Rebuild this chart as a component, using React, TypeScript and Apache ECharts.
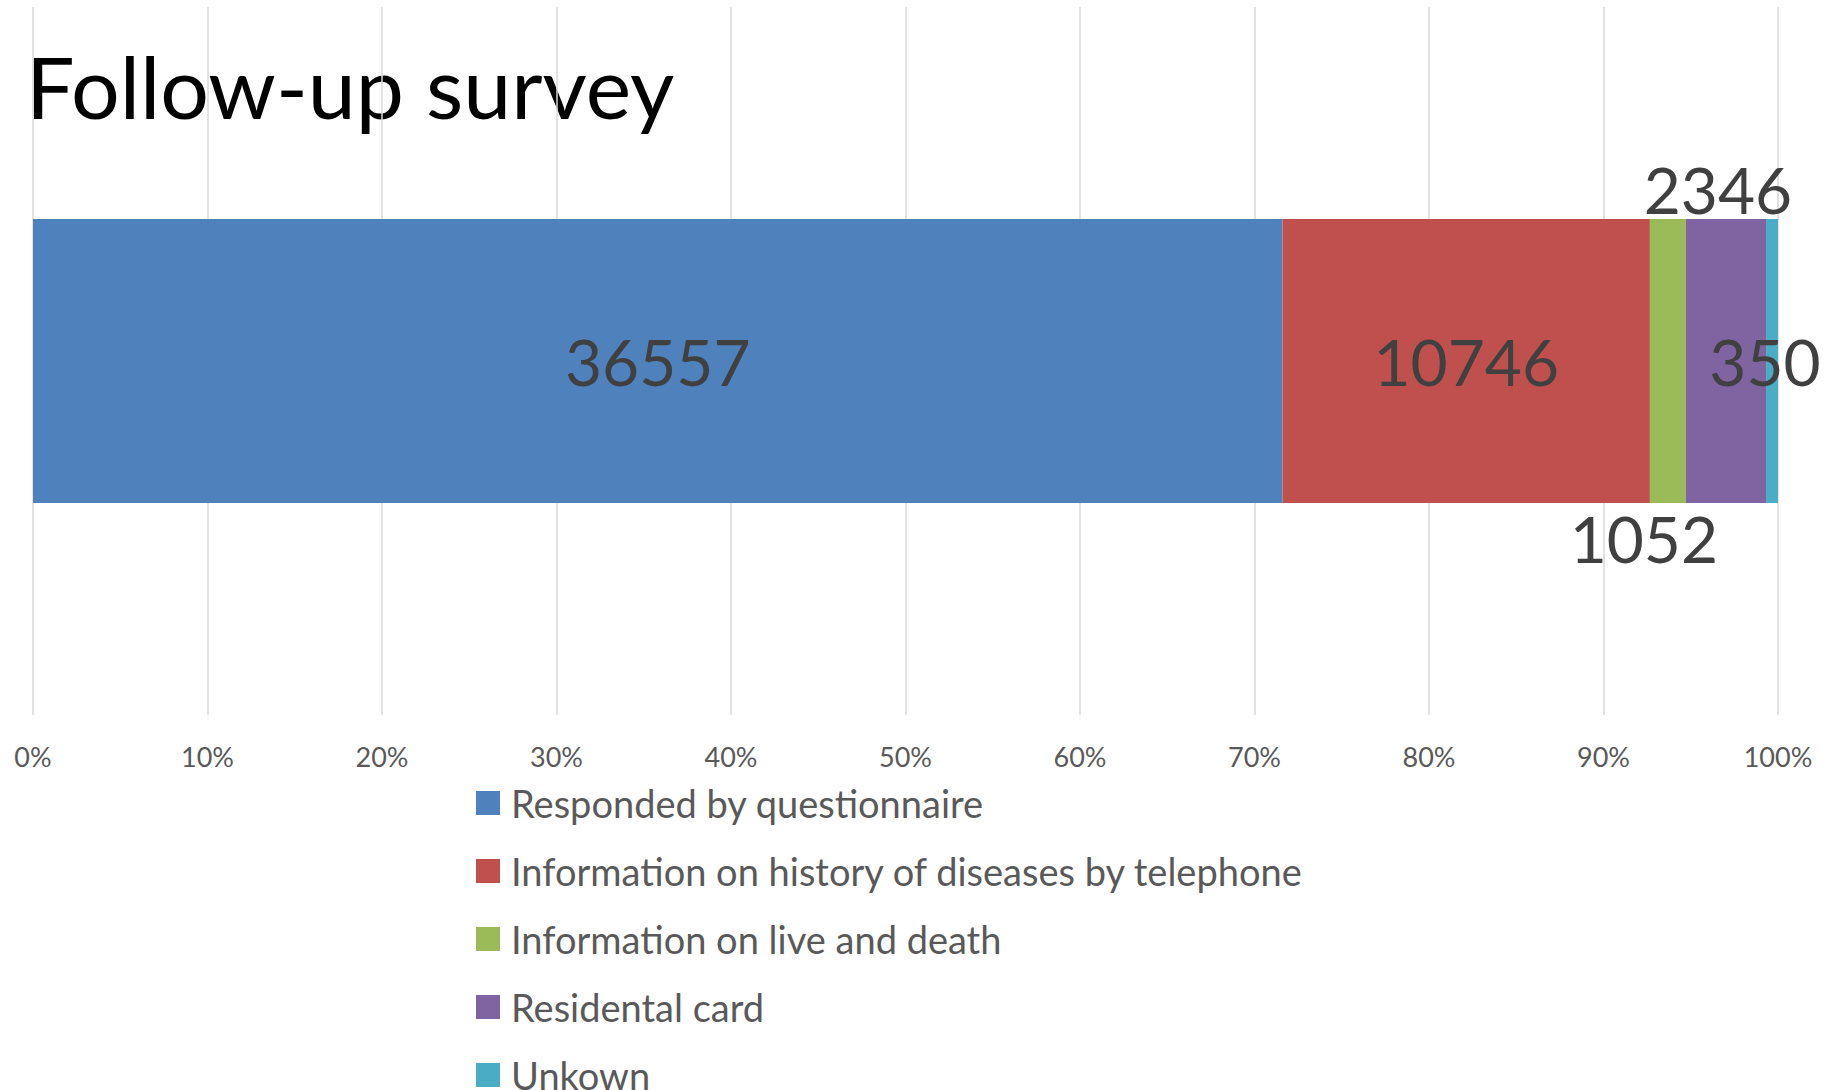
import React, { useEffect, useRef } from "react";
import * as echarts from "echarts";

const categories = ["Follow-up survey"];
const seriesNames = [
  "Responded by questionnaire",
  "Information on history of diseases by telephone",
  "Information on live and death",
  "Residental card",
  "Unkown",
];
const seriesValues = [36557, 10746, 1052, 2346, 350];
const seriesColors = ["#4F81BD", "#C0504D", "#9BBB59", "#8064A2", "#4BACC6"];
const labelOffsets: [number, number][] = [
  [0, 0],
  [0, 0],
  [-24, 177],
  [-8, -172],
  [-7, 0],
];
const tickLabels = ["0%", "10%", "20%", "30%", "40%", "50%", "60%", "70%", "80%", "90%", "100%"];

const FONT = 'Lato, "Open Sans", sans-serif';

export default function App() {
  const ref = useRef<HTMLDivElement>(null);
  useEffect(() => {
    if (!ref.current) return;
    const chart = echarts.init(ref.current, undefined, { renderer: "svg" });
    const total = seriesValues.reduce((a, b) => a + b, 0);
    const series = seriesNames.map((name, i) => ({
      name,
      type: "bar",
      stack: "total",
      barWidth: 284,
      itemStyle: { color: seriesColors[i] },
      data: [(seriesValues[i] / total) * 100],
      label: {
        show: true,
        position: "inside",
        offset: labelOffsets[i],
        formatter: () => String(seriesValues[i]),
        fontFamily: FONT,
        fontSize: 64,
        color: "#404040",
      },
    }));
    chart.setOption({
      animation: false,
      textStyle: { fontFamily: FONT },
      graphic: [
        {
          type: "text",
          left: 26,
          top: 42,
          style: {
            text: categories[0],
            font: `86px ${FONT}`,
            fill: "#000000",
          },
        },
      ],
      legend: {
        orient: "vertical",
        left: 476,
        top: 784,
        height: 420,
        padding: 0,
        itemWidth: 24,
        itemHeight: 24,
        itemGap: 30,
        icon: "rect",
        data: seriesNames,
        textStyle: {
          fontFamily: FONT,
          fontSize: 38,
          color: "#595959",
          padding: [0, 0, 0, 6],
        },
      },
      grid: { left: 33, right: 54, top: 7, bottom: 375, containLabel: false },
      xAxis: {
        type: "value",
        min: 0,
        max: 100,
        interval: 10,
        axisLine: { show: false },
        axisTick: { show: false },
        axisLabel: {
          formatter: (v: number) => tickLabels[Math.round(v / 10)],
          fontFamily: FONT,
          fontSize: 27,
          color: "#595959",
          margin: 28,
        },
        splitLine: { show: true, lineStyle: { color: "#D9D9D9", width: 1.5 } },
      },
      yAxis: {
        type: "category",
        data: categories,
        axisLine: { show: false },
        axisTick: { show: false },
        axisLabel: { show: false },
      },
      series,
    });
    return () => chart.dispose();
  }, []);
  return (
    <div
      ref={ref}
      style={{ position: "fixed", left: 0, top: 0, width: 1832, height: 1090, background: "#ffffff" }}
    />
  );
}
